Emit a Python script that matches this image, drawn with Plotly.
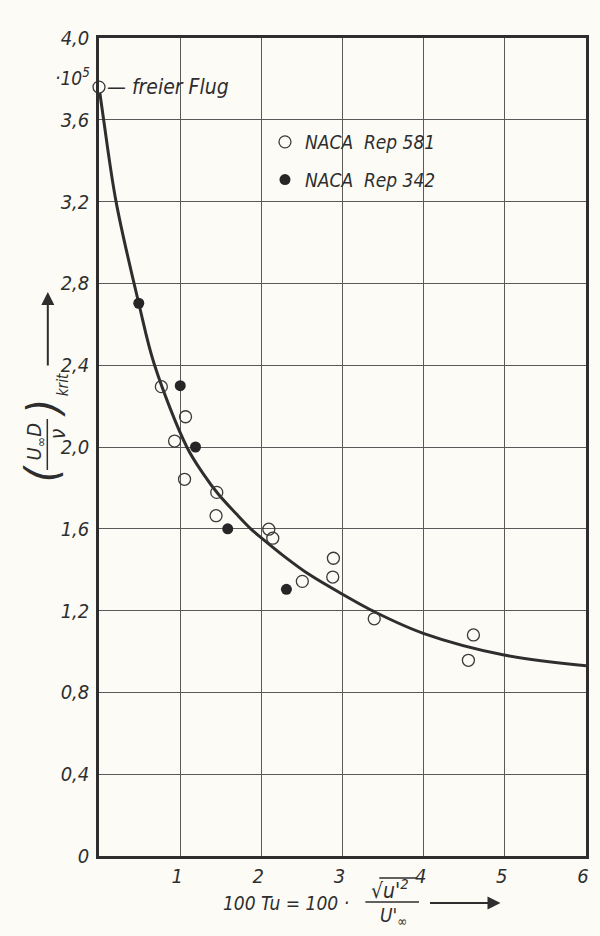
import plotly.graph_objects as go

# ---------------- data ----------------
free_flight_x = [0.0]
free_flight_y = [3.76]

rep581_x = [0.768, 0.931, 1.066, 1.054, 1.451, 1.442, 2.092, 2.141, 2.505, 2.880, 2.888, 3.391, 4.551, 4.613]
rep581_y = [2.295, 2.029, 2.148, 1.842, 1.778, 1.664, 1.598, 1.554, 1.343, 1.364, 1.456, 1.160, 0.957, 1.081]

rep342_x = [0.490, 1.001, 1.189, 1.586, 2.309]
rep342_y = [2.703, 2.300, 2.000, 1.600, 1.304]

curve_x = [0.0, 0.057, 0.21, 0.49, 0.683, 1.082, 1.285, 1.469, 1.694, 1.87, 2.0, 2.306, 2.592, 3.0, 3.39, 3.995, 4.99, 6.0]
curve_y = [3.76, 3.60, 3.20, 2.703, 2.402, 2.0, 1.869, 1.770, 1.672, 1.60, 1.556, 1.458, 1.376, 1.28, 1.195, 1.089, 0.983, 0.93]

y_tick_vals = [0, 0.4, 0.8, 1.2, 1.6, 2.0, 2.4, 2.8, 3.2, 3.6, 4.0]
y_tick_text = ["0", "0,4", "0,8", "1,2", "1,6", "2,0", "2,4", "2,8", "3,2", "3,6", "4,0"]
x_tick_vals = [1, 2, 3, 4, 5, 6]
x_tick_text = ["1", "2", "3", "4", "5", "6"]

# ---------------- style ----------------
W, H = 600, 936
ML, MR, MT, MB = 99, 11, 38, 80
PW, PH = W - ML - MR, H - MT - MB
BG = "#fcfbf6"
INK = "#2e2e2e"
GRID = "#5a5a5a"
FONT = "Liberation Sans Narrow, DejaVu Sans Condensed, Arial Narrow, sans-serif"


def px(x):
    return (x - ML) / PW


def py(y):
    return (H - MB - y) / PH


fig = go.Figure()

fig.add_trace(go.Scatter(
    x=curve_x, y=curve_y, mode="lines", line=dict(color=INK, width=3, shape="spline", smoothing=1.0),
    showlegend=False, hoverinfo="skip"))

fig.add_trace(go.Scatter(
    x=rep581_x, y=rep581_y, mode="markers", name="NACA  Rep 581", legendgroup="a",
    marker=dict(symbol="circle-open", size=12, color="#3a3a3a", line=dict(width=1.3))))

fig.add_trace(go.Scatter(
    x=rep342_x, y=rep342_y, mode="markers", name="NACA  Rep 342", legendgroup="b",
    marker=dict(symbol="circle", size=11, color="#262626")))

fig.add_trace(go.Scatter(
    x=free_flight_x, y=free_flight_y, mode="markers", showlegend=False, cliponaxis=False,
    marker=dict(symbol="circle", size=12, color=BG, line=dict(width=1.3, color="#3a3a3a"))))

annotations = []
italic = dict(family=FONT, color=INK, style="italic")

annotations.append(dict(x=0, y=free_flight_y[0], xref="x", yref="y", text="— freier Flug",
                        showarrow=False, xanchor="left", yanchor="middle", xshift=6,
                        font=dict(size=21, **italic)))
annotations.append(dict(x=px(92), y=py(77), xref="paper", yref="paper", text="·10<sup>5</sup>",
                        showarrow=False, xanchor="right", yanchor="middle",
                        font=dict(size=19, **italic)))

# y axis title pieces (rotated)
rot = dict(xref="paper", yref="paper", showarrow=False, textangle=-90, xanchor="center", yanchor="middle")
annotations.append(dict(x=px(41), y=py(474), text="(", font=dict(size=44, **italic), **rot))
annotations.append(dict(x=px(43), y=py(408), text=")", font=dict(size=44, **italic), **rot))
annotations.append(dict(x=px(35), y=py(441), text="U<sub>∞</sub>D", font=dict(size=20, **italic), **rot))
annotations.append(dict(x=px(58), y=py(434), text="ν", font=dict(size=21, **italic), **rot))
annotations.append(dict(x=px(63), y=py(385), text="krit", font=dict(size=15, family=FONT, color=INK), **rot))
annotations.append(dict(x=px(47.5), y=py(292), xref="paper", yref="paper", text="", showarrow=True,
                        ax=0, ay=75, arrowhead=2, arrowsize=1.3, arrowwidth=2, arrowcolor=INK))

# x axis title pieces
annotations.append(dict(x=px(353), y=py(903), xref="paper", yref="paper", text="100 Tu = 100 ·",
                        showarrow=False, xanchor="right", yanchor="middle", font=dict(size=19, **italic)))
annotations.append(dict(x=px(392), y=py(889), xref="paper", yref="paper", text="√u'<sup>2</sup>",
                        showarrow=False, xanchor="center", yanchor="middle", font=dict(size=21, **italic)))
annotations.append(dict(x=px(395), y=py(916), xref="paper", yref="paper", text="U'<sub>∞</sub>",
                        showarrow=False, xanchor="center", yanchor="middle", font=dict(size=19, **italic)))
annotations.append(dict(x=px(503), y=py(903), xref="paper", yref="paper", text="", showarrow=True,
                        ax=-72, ay=0, arrowhead=2, arrowsize=1.3, arrowwidth=2, arrowcolor=INK))

shapes = [
    dict(type="line", xref="paper", yref="paper", x0=px(47), x1=px(47), y0=py(419), y1=py(470),
         line=dict(color=INK, width=1.5)),
    dict(type="line", xref="paper", yref="paper", x0=px(367), x1=px(421), y0=py(902), y1=py(902),
         line=dict(color=INK, width=1.5)),
    dict(type="line", xref="paper", yref="paper", x0=px(381), x1=px(419), y0=py(878), y1=py(878),
         line=dict(color=INK, width=1.3)),
]

fig.update_layout(
    width=W, height=H,
    margin=dict(l=ML, r=MR, t=MT, b=MB),
    paper_bgcolor=BG, plot_bgcolor=BG,
    font=dict(family=FONT, color=INK, size=20, style="italic"),
    showlegend=True,
    legend=dict(x=px(266), y=py(123), xanchor="left", yanchor="top",
                bgcolor="rgba(0,0,0,0)", font=dict(size=19, family=FONT, color=INK, style="italic"),
                traceorder="grouped", tracegroupgap=10, itemwidth=30),
    annotations=annotations,
    shapes=shapes,
)

fig.update_xaxes(range=[0, 6], tickvals=x_tick_vals, ticktext=x_tick_text,
                 showgrid=True, gridcolor=GRID, gridwidth=1.2, zeroline=False,
                 showline=True, linecolor=INK, linewidth=2.5, mirror=True,
                 ticks="", ticklabelstandoff=0, ticklabelshift=-3,
                 tickfont=dict(size=20, family=FONT, color=INK, style="italic"))
fig.update_yaxes(range=[0, 4.0], tickvals=y_tick_vals, ticktext=y_tick_text,
                 showgrid=True, gridcolor=GRID, gridwidth=1.2, zeroline=False,
                 showline=True, linecolor=INK, linewidth=2.5, mirror=True,
                 ticks="", ticklabelstandoff=3, tickfont=dict(size=20, family=FONT, color=INK, style="italic"))

fig.write_html(
    "out.html",
    config={"displayModeBar": False},
    post_script="document.body.style.margin='0';document.body.style.background='" + BG + "';",
)
